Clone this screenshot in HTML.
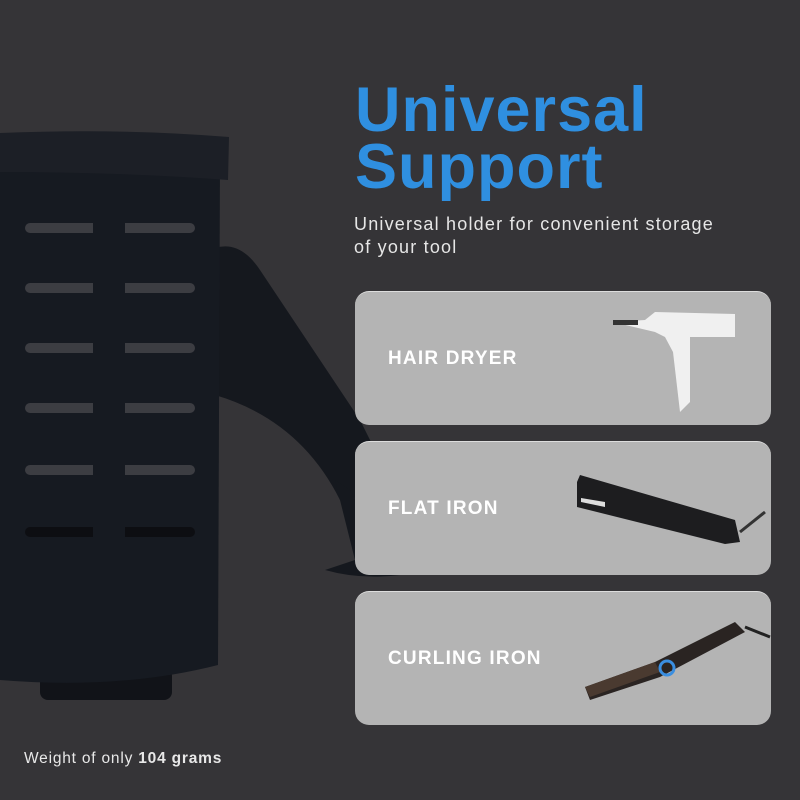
<!DOCTYPE html>
<html><head><style>
body{margin:0;width:800px;height:800px;background:#353437;position:relative;overflow:hidden;font-family:"Liberation Sans",sans-serif}
.t{position:absolute;left:355px;top:82px;color:#2f8fe0;font-weight:bold;font-size:63px;line-height:57px;letter-spacing:1px}
.s{position:absolute;left:354px;top:213px;color:#e6e6e6;font-size:18px;line-height:23px;letter-spacing:1.2px}
.c{position:absolute;left:355px;width:416px;height:133px;border-radius:14px;background:#b4b4b4;border-top:1px solid #ddd}
.c span{position:absolute;left:33px;top:56px;color:#fff;font-weight:bold;font-size:19px;letter-spacing:1.2px}
.w{position:absolute;left:24px;top:750px;color:#e8e8e8;font-size:15.5px;letter-spacing:0.8px}
</style></head><body>
<svg width="800" height="800" style="position:absolute;left:0;top:0">
<path d="M215 248 Q240 240 260 270 L360 420 L385 470 Q370 500 340 500 Q300 420 215 395Z" fill="#15181e"/>
<path d="M335 480 Q350 540 355 560 L325 570 Q360 580 400 575 L350 490Z" fill="#15181e"/>
<rect x="40" y="668" width="132" height="32" rx="8" fill="#111318"/>
<path d="M0 150 L220 160 L218 665 Q120 690 0 680Z" fill="#161a21"/>
<path d="M0 133 Q120 128 229 137 L228 180 Q120 172 0 172Z" fill="#1c1f26"/>
<g fill="#3c3d42">
<rect x="25" y="223" width="170" height="10" rx="5"/>
<rect x="25" y="283" width="170" height="10" rx="5"/>
<rect x="25" y="343" width="170" height="10" rx="5"/>
<rect x="25" y="403" width="170" height="10" rx="5"/>
<rect x="25" y="465" width="170" height="10" rx="5"/>
</g>
<rect x="25" y="527" width="170" height="10" rx="5" fill="#0d0e12"/>
<g fill="#161a21"><rect x="93" y="220" width="32" height="330"/></g>
</svg>
<div class="t">Universal<br>Support</div>
<div class="s">Universal holder for convenient storage<br>of your tool</div>
<div class="c" style="top:291px"><span>HAIR DRYER</span>
<svg width="416" height="133" style="position:absolute;left:0;top:0"><path d="M258 30 L290 28 L300 20 L380 22 L380 45 L335 45 L335 110 L325 120 L318 60 L310 45 L300 40 Z" fill="#f0f0f0"/><rect x="258" y="28" width="25" height="5" fill="#333"/></svg></div>
<div class="c" style="top:441px"><span>FLAT IRON</span>
<svg width="416" height="133" style="position:absolute;left:0;top:0"><path d="M222 40 L225 33 L380 78 L385 100 L370 102 L222 65 L222 55 Z" fill="#1d1d1f"/><path d="M226 56 L250 60 L250 65 L226 60Z" fill="#ddd"/><path d="M385 90 L410 70" stroke="#333" stroke-width="3"/></svg></div>
<div class="c" style="top:591px"><span>CURLING IRON</span>
<svg width="416" height="133" style="position:absolute;left:0;top:0"><path d="M230 95 L300 70 L380 30 L390 40 L305 85 L235 108Z" fill="#2a2422"/><path d="M230 95 L300 70 L305 80 L235 105Z" fill="#4a3a30"/><circle cx="312" cy="76" r="7" fill="none" stroke="#3a8ee0" stroke-width="3"/><path d="M390 35 L415 45" stroke="#222" stroke-width="3"/></svg></div>
<div class="w">Weight of only <b>104 grams</b></div>
</body></html>
